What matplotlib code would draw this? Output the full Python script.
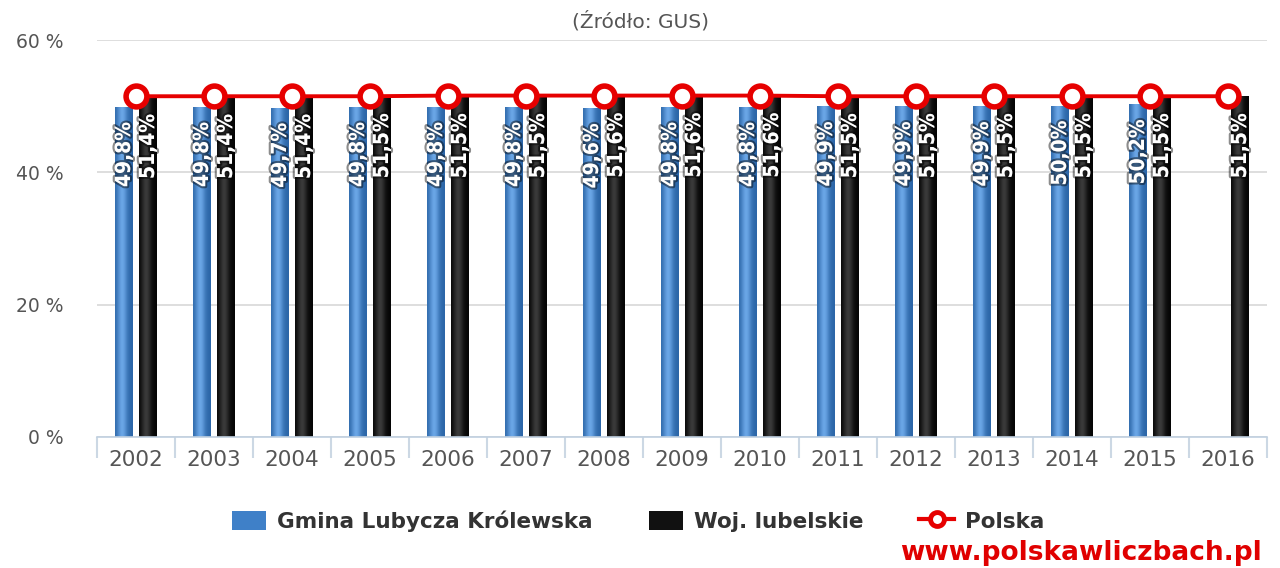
import matplotlib
matplotlib.use("Agg")
import matplotlib.pyplot as plt
import matplotlib.patheffects as pe
import numpy as np
from matplotlib.patches import Patch
from matplotlib.lines import Line2D

years = ["2002", "2003", "2004", "2005", "2006", "2007", "2008", "2009",
         "2010", "2011", "2012", "2013", "2014", "2015", "2016"]
gmina = [49.8, 49.8, 49.7, 49.8, 49.8, 49.8, 49.6, 49.8, 49.8, 49.9, 49.9, 49.9, 50.0, 50.2, None]
woj = [51.4, 51.4, 51.4, 51.5, 51.5, 51.5, 51.6, 51.6, 51.6, 51.5, 51.5, 51.5, 51.5, 51.5, 51.5]
polska = [51.5, 51.5, 51.5, 51.5, 51.6, 51.6, 51.6, 51.6, 51.6, 51.5, 51.5, 51.5, 51.5, 51.5, 51.5]
yticks = [0, 20, 40, 60]

W, H = 1280, 568
fig = plt.figure(figsize=(W / 100, H / 100), dpi=100)
ax = fig.add_axes([97 / W, 1 - 437 / H, (1267 - 97) / W, (437 - 40) / H])

x = np.arange(len(years))
bw = 0.23
off = 0.154

def grad_bar(xc, h, c_edge, c_mid):
    n = 32
    t = np.linspace(0, 1, n)
    prof = np.exp(-((t - 0.4) ** 2) / 0.08)
    ce = np.array(matplotlib.colors.to_rgb(c_edge))
    cm = np.array(matplotlib.colors.to_rgb(c_mid))
    img = ce[None, :] * (1 - prof[:, None]) + cm[None, :] * prof[:, None]
    img = img[None, :, :]
    ax.imshow(img, extent=(xc - bw / 2, xc + bw / 2, 0, h), aspect="auto",
              interpolation="bilinear", zorder=2)

shadow = [pe.withStroke(linewidth=3, foreground=(0, 0, 0, 0.45))]
lab_kw = dict(rotation=90, ha="center", va="top", color="white", fontsize=15,
              fontweight="bold", family="DejaVu Sans", fontstretch="condensed",
              path_effects=shadow, zorder=5)

for i in range(len(years)):
    if gmina[i] is not None:
        grad_bar(x[i] - off, gmina[i], "#2c66a8", "#6aa6e6")
        ax.text(x[i] - off, gmina[i] - 2.2, f"{gmina[i]:.1f}%".replace(".", ","), **lab_kw)
    grad_bar(x[i] + off, woj[i], "#050505", "#3a3a3a")
    ax.text(x[i] + off, woj[i] - 2.6, f"{woj[i]:.1f}%".replace(".", ","), **lab_kw)

ax.plot(x, polska, color="#e60000", lw=2.8, zorder=6, marker="o", ms=15,
        mfc="white", mec="#e60000", mew=4)

ax.set_xlim(-0.5, len(years) - 0.5)
ax.set_ylim(0, 60)
ax.set_yticks(yticks)
ax.set_yticklabels([f"{v} %" for v in yticks], color="#555555", fontsize=13.5)
ax.tick_params(axis="y", length=0, pad=24)
ax.set_xticks(x)
ax.set_xticklabels(years, color="#555555", fontsize=15.5)
ax.tick_params(axis="x", which="major", length=0, pad=9)
ax.set_xticks(np.arange(-0.5, len(years), 1), minor=True)
ax.tick_params(axis="x", which="minor", length=15, color="#ccd8e4", width=1.5)
ax.grid(axis="y", color="#d8d8d8", lw=1.2, zorder=0)
ax.set_axisbelow(True)
for s in ["top", "right", "left"]:
    ax.spines[s].set_visible(False)
ax.spines["bottom"].set_color("#c0d0e0")
ax.spines["bottom"].set_linewidth(1.2)

fig.text(640 / W, 1 - 21 / H, "(Źródło: GUS)", ha="center", va="center",
         color="#555555", fontsize=14.5)

handles = [Patch(facecolor="#3f80c8", edgecolor="none"),
           Patch(facecolor="#111111", edgecolor="none"),
           Line2D([0], [0], color="#e60000", lw=3, marker="o", ms=10,
                  mfc="white", mec="#e60000", mew=3.5)]
leg = fig.legend(handles, ["Gmina Lubycza Królewska", "Woj. lubelskie", "Polska"],
                 loc="center", bbox_to_anchor=(638 / W, 1 - 521 / H), ncol=3,
                 frameon=False, prop={"weight": "bold", "size": 15.5},
                 handlelength=1.6, handleheight=1.0, columnspacing=2.6, handletextpad=0.5)
for t in leg.get_texts():
    t.set_color("#333333")

fig.text(1262 / W, 1 - 553 / H, "www.polskawliczbach.pl", ha="right", va="center",
         color="#e00000", fontsize=19, fontweight="bold")

fig.savefig("out.png", dpi=100)
